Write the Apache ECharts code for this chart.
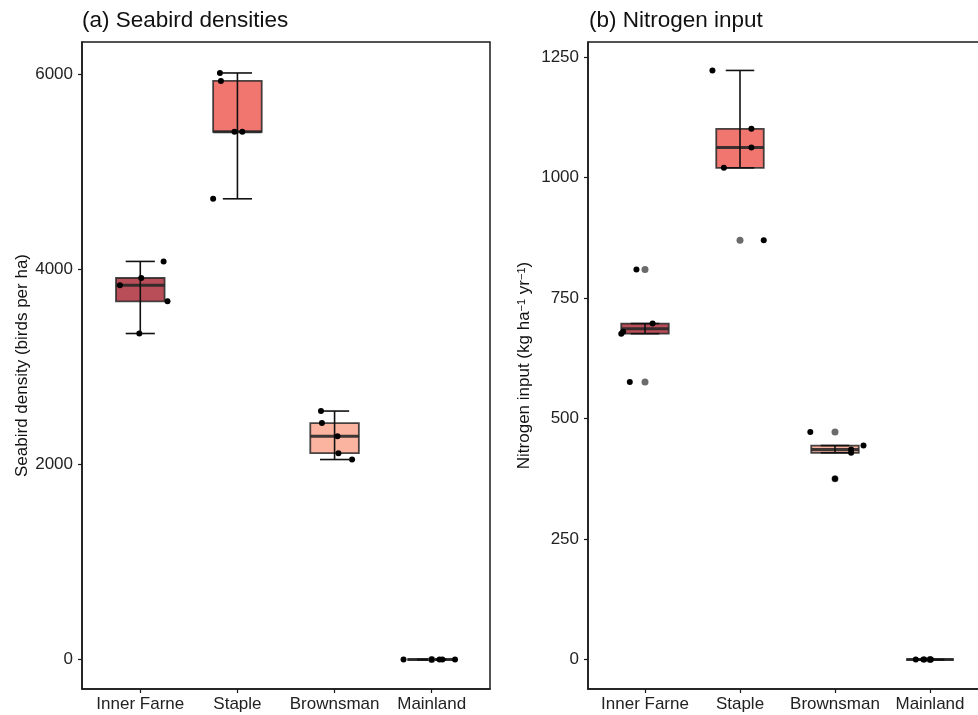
<!DOCTYPE html>
<html>
<head>
<meta charset="utf-8">
<script src="https://cdn.jsdelivr.net/npm/echarts@6/dist/echarts.min.js"></script>
<style>
html,body{margin:0;padding:0;background:#fff;}
#chart{width:978px;height:715px;}
</style>
</head>
<body>
<div id="chart"></div>
<script>
// ---------- data ----------
const sites = ['Inner Farne', 'Staple', 'Brownsman', 'Mainland'];

// box summaries: [lower whisker, Q1, median, Q3, upper whisker]
const densityBox = [
  [3343, 3673, 3837, 3912, 4082],
  [4724, 5411, 5411, 5932, 6014],
  [2051, 2116, 2289, 2425, 2548],
  [0, 0, 0, 0, 0]
];
const densityPointX = [1.24, 1.01, 0.79, 1.28, 0.99,
                       1.82, 1.83, 1.97, 2.05, 1.75,
                       2.86, 2.87, 3.03, 3.04, 3.18,
                       3.71, 4.00, 4.08, 4.11, 4.24];
const densityPointY = [4082, 3912, 3837, 3673, 3343,
                       6014, 5932, 5411, 5411, 4724,
                       2548, 2425, 2289, 2116, 2051,
                       0, 0, 0, 0, 0];
const densityOutlierSite = [4];
const densityOutlierY = [0];
const densityTicks = [0, 2000, 4000, 6000];

const nitrogenBox = [
  [676, 676, 686, 697, 697],
  [1020, 1020, 1062, 1101, 1222],
  [429, 429, 436, 444, 444],
  [0, 0, 0, 0, 0]
];
const nitrogenPointX = [0.91, 1.08, 0.77, 0.75, 0.84,
                        1.71, 2.12, 2.12, 1.83, 2.25,
                        2.74, 3.30, 3.17, 3.17, 3.00,
                        3.85, 3.93, 3.94, 4.00, 4.01];
const nitrogenPointY = [809, 697, 680, 676, 576,
                        1222, 1101, 1062, 1020, 870,
                        472, 444, 436, 429, 375,
                        0, 0, 0, 0, 0];
const nitrogenOutlierSite = [1, 1, 2, 3, 3, 4];
const nitrogenOutlierY = [809, 576, 870, 472, 375, 0];
const nitrogenTicks = [0, 250, 500, 750, 1000, 1250];

// ---------- styles ----------
const FONT = 'Liberation Sans';
const siteFill = ['#B94E58', '#F1766F', '#FBB4A0', '#8a8a8a'];
const ink = '#1a1a1a';
const siteIdx = [1, 2, 3, 4];

function boxData(box) {
  return box.map((b, i) => [siteIdx[i]].concat(b));
}

function renderBox(params, api) {
  const x = api.value(0);
  const q1 = api.value(2), med = api.value(3), q3 = api.value(4);
  const tl = api.coord([x - 0.25, q3]);
  const br = api.coord([x + 0.25, q1]);
  const ml = api.coord([x - 0.25, med]);
  const mr = api.coord([x + 0.25, med]);
  return {
    type: 'group',
    children: [
      { type: 'rect',
        shape: { x: tl[0], y: tl[1], width: br[0] - tl[0], height: Math.max(br[1] - tl[1], 0) },
        style: { fill: siteFill[params.dataIndex], stroke: 'rgba(40,40,40,0.85)', lineWidth: 1.8 } },
      { type: 'line',
        shape: { x1: ml[0], y1: ml[1], x2: mr[0], y2: mr[1] },
        style: { stroke: 'rgba(40,40,40,0.9)', lineWidth: 3 } }
    ]
  };
}

function renderErr(params, api) {
  const x = api.value(0);
  const lo = api.value(1), hi = api.value(5);
  const pLo = api.coord([x, lo]), pHi = api.coord([x, hi]);
  const cLoL = api.coord([x - 0.15, lo]), cLoR = api.coord([x + 0.15, lo]);
  const cHiL = api.coord([x - 0.15, hi]), cHiR = api.coord([x + 0.15, hi]);
  const st = { stroke: '#111', lineWidth: 1.6 };
  return {
    type: 'group',
    children: [
      { type: 'line', shape: { x1: pLo[0], y1: pLo[1], x2: pHi[0], y2: pHi[1] }, style: st },
      { type: 'line', shape: { x1: cLoL[0], y1: cLoL[1], x2: cLoR[0], y2: cLoR[1] }, style: st },
      { type: 'line', shape: { x1: cHiL[0], y1: cHiL[1], x2: cHiR[0], y2: cHiR[1] }, style: st }
    ]
  };
}

function xAxisCfg(gridIndex) {
  return {
    type: 'value', gridIndex: gridIndex, min: 0.4, max: 4.6,
    axisLine: { show: true, onZero: false, lineStyle: { color: ink, width: 1.5 } },
    axisTick: { show: true, customValues: siteIdx, length: 4, lineStyle: { color: ink, width: 1.2 } },
    axisLabel: { customValues: siteIdx, formatter: v => sites[Math.round(v) - 1] || '',
                 fontSize: 17, color: '#222', fontFamily: FONT, margin: 7 },
    splitLine: { show: false }
  };
}

function yAxisCfg(gridIndex, min, max, ticks, name, gap, rich) {
  const cfg = {
    type: 'value', gridIndex: gridIndex, min: min, max: max,
    name: name, nameLocation: 'middle', nameGap: gap,
    nameTextStyle: { fontSize: 17, color: '#111', fontFamily: FONT },
    axisLine: { show: true, onZero: false, lineStyle: { color: ink, width: 1.5 } },
    axisTick: { show: true, customValues: ticks, length: 4, lineStyle: { color: ink, width: 1.2 } },
    axisLabel: { customValues: ticks, formatter: v => String(Math.round(v)),
                 fontSize: 17, color: '#222', fontFamily: FONT, margin: 9 },
    splitLine: { show: false }
  };
  if (rich) cfg.nameTextStyle.rich = rich;
  return cfg;
}

const chart = echarts.init(document.getElementById('chart'), null, { renderer: 'canvas' });

const supRich = {
  n: { fontSize: 17, color: '#111', fontFamily: FONT },
  s: { fontSize: 11, color: '#111', fontFamily: FONT, verticalAlign: 'top' }
};

chart.setOption({
  animation: false,
  backgroundColor: '#fff',
  textStyle: { fontFamily: FONT },
  title: [
    { text: '(a) Seabird densities', left: 82, top: 9, padding: 0,
      textStyle: { fontSize: 22.5, fontWeight: 'normal', color: '#111', fontFamily: FONT } },
    { text: '(b) Nitrogen input', left: 589, top: 9, padding: 0,
      textStyle: { fontSize: 22.5, fontWeight: 'normal', color: '#111', fontFamily: FONT } }
  ],
  grid: [
    { left: 82, width: 408, top: 42, height: 647, show: true, borderColor: ink, borderWidth: 1.5,
      containLabel: false, outerBoundsMode: 'none' },
    { left: 588, width: 399, top: 42, height: 647, show: true, borderColor: ink, borderWidth: 1.5,
      containLabel: false, outerBoundsMode: 'none' }
  ],
  xAxis: [xAxisCfg(0), xAxisCfg(1)],
  yAxis: [
    yAxisCfg(0, -301.5, 6331.5, densityTicks, 'Seabird density (birds per ha)', 50),
    yAxisCfg(1, -61, 1281, nitrogenTicks,
      '{n|Nitrogen input (kg ha}{s|\u22121}{n| yr}{s|\u22121}{n|)}', 55, supRich)
  ],
  series: [
    { type: 'custom', xAxisIndex: 0, yAxisIndex: 0, renderItem: renderBox, data: boxData(densityBox), z: 2 },
    { type: 'custom', xAxisIndex: 0, yAxisIndex: 0, renderItem: renderErr, data: boxData(densityBox), z: 3 },
    { type: 'scatter', xAxisIndex: 0, yAxisIndex: 0, symbolSize: 7, itemStyle: { color: '#6b6b6b', opacity: 1 }, z: 4,
      data: densityOutlierSite.map((s, i) => [s, densityOutlierY[i]]) },
    { type: 'scatter', xAxisIndex: 0, yAxisIndex: 0, symbolSize: 6, itemStyle: { color: '#000', opacity: 1 }, z: 5,
      data: densityPointX.map((x, i) => [x, densityPointY[i]]) },

    { type: 'custom', xAxisIndex: 1, yAxisIndex: 1, renderItem: renderBox, data: boxData(nitrogenBox), z: 2 },
    { type: 'custom', xAxisIndex: 1, yAxisIndex: 1, renderItem: renderErr, data: boxData(nitrogenBox), z: 3 },
    { type: 'scatter', xAxisIndex: 1, yAxisIndex: 1, symbolSize: 7, itemStyle: { color: '#6b6b6b', opacity: 1 }, z: 4,
      data: nitrogenOutlierSite.map((s, i) => [s, nitrogenOutlierY[i]]) },
    { type: 'scatter', xAxisIndex: 1, yAxisIndex: 1, symbolSize: 6, itemStyle: { color: '#000', opacity: 1 }, z: 5,
      data: nitrogenPointX.map((x, i) => [x, nitrogenPointY[i]]) }
  ]
});
</script>
</body>
</html>
